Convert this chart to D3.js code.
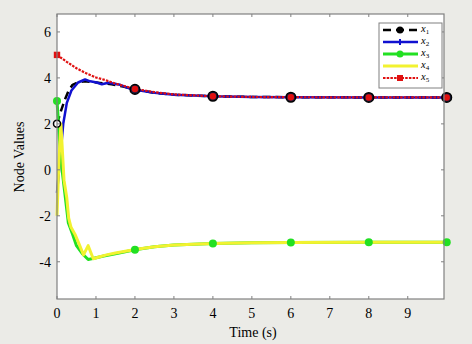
<!DOCTYPE html>
<html><head><meta charset="utf-8">
<script src="https://cdn.jsdelivr.net/npm/d3@7"></script>
<style>body{margin:0;background:#ebebe7;}svg{display:block;}</style>
</head><body><svg id="c" width="472" height="344"></svg>
<script>
const xTicks = [0,1,2,3,4,5,6,7,8,9];
const yTicks = [-4,-2,0,2,4,6];
const markerTimes = [0,2,4,6,8,10];

const t1 = [0,0.1,0.2,0.3,0.4,0.55,0.7,0.9,1.1,1.4,1.7,2,2.5,3,4,5,6,8,10];
const x1 = [2,2.55,3.05,3.45,3.7,3.82,3.85,3.82,3.78,3.72,3.62,3.5,3.35,3.27,3.2,3.17,3.16,3.15,3.15];

const t2 = [0,0.08,0.16,0.25,0.37,0.54,0.72,0.85,1.02,1.15,1.32,1.62,1.92,2.5,3,4,5,6,8,10];
const x2 = [-1,0.5,2.0,2.9,3.45,3.8,3.93,3.85,3.8,3.72,3.79,3.7,3.5,3.35,3.27,3.2,3.17,3.16,3.15,3.15];

const t3 = [0,0.04,0.08,0.13,0.2,0.29,0.4,0.5,0.65,0.8,0.95,1.2,1.5,2,2.5,3,4,5,6,8,10];
const x3 = [3,2,0.85,0,-1,-2.3,-2.8,-3.3,-3.65,-3.9,-3.85,-3.75,-3.65,-3.48,-3.35,-3.27,-3.2,-3.17,-3.16,-3.15,-3.15];

const t4 = [0,0.05,0.1,0.18,0.25,0.3,0.36,0.46,0.56,0.68,0.8,0.93,1.1,1.27,1.5,2,2.5,3,4,5,6,8,10];
const x4 = [-2,0.4,2,-0.45,-1.2,-2.1,-2.5,-2.8,-3.2,-3.7,-3.3,-3.87,-3.78,-3.7,-3.62,-3.47,-3.35,-3.27,-3.2,-3.17,-3.16,-3.15,-3.15];

const t5 = [0,0.25,0.5,0.75,1,1.25,1.5,2,2.5,3,4,5,6,8,10];
const x5 = [5,4.7,4.42,4.2,4.02,3.9,3.75,3.52,3.38,3.28,3.2,3.17,3.16,3.15,3.15];

const svg = d3.select("#c");
const L=57, R=444, T=14, B=299;
const x = d3.scaleLinear().domain([0,9.93]).range([L,R]);
const y = d3.scaleLinear().domain([-5.62,6.78]).range([B,T]);
const font = "'Liberation Serif','Times New Roman',serif";

svg.append("rect").attr("x",L).attr("y",T).attr("width",R-L).attr("height",B-T).attr("fill","#fff");

const line = d3.line().x(d=>x(d[0])).y(d=>y(d[1]));
const zip = (t,v)=>t.map((d,i)=>[d,v[i]]);
const series = [
  {t:t1,v:x1,color:"#000",w:2.5,dash:"8,5"},
  {t:t2,v:x2,color:"#1010d0",w:2.5,dash:null},
  {t:t3,v:x3,color:"#22e022",w:3,dash:null},
  {t:t4,v:x4,color:"#f2f230",w:3,dash:null},
  {t:t5,v:x5,color:"#e01010",w:2.2,dash:"2.5,1.2"}
];
const plot = svg.append("g");
series.forEach(s=>{
  plot.append("path").datum(zip(s.t,s.v)).attr("d",line)
    .attr("fill","none").attr("stroke",s.color).attr("stroke-width",s.w)
    .attr("stroke-linejoin","round").attr("stroke-dasharray",s.dash);
});
const mk = (t,v)=>zip(t,v).filter(d=>markerTimes.includes(d[0]));
plot.selectAll(".m1").data(mk(t1,x1)).join("circle")
  .attr("cx",d=>x(d[0])).attr("cy",d=>y(d[1])).attr("r",d=>d[0]===0?3.5:4.8)
  .attr("fill",d=>d[0]===0?"#fff":"#1a1a40").attr("stroke","#000").attr("stroke-width",1.5);
plot.selectAll(".m3").data(mk(t3,x3)).join("circle")
  .attr("cx",d=>x(d[0])).attr("cy",d=>y(d[1])).attr("r",4).attr("fill","#22e022");
plot.selectAll(".m5").data(mk(t5,x5)).join("rect")
  .attr("x",d=>x(d[0])-3.2).attr("y",d=>y(d[1])-3.2).attr("width",6.4).attr("height",6.4)
  .attr("rx",d=>d[0]===0?0:3).attr("fill","#e01010");

const ax = svg.append("g").attr("stroke","#808080").attr("fill","none");
ax.append("rect").attr("x",L).attr("y",T).attr("width",R-L).attr("height",B-T).attr("stroke-width",1.2);
xTicks.forEach(v=>{
  ax.append("line").attr("x1",x(v)).attr("x2",x(v)).attr("y1",B).attr("y2",B-3);
  ax.append("line").attr("x1",x(v)).attr("x2",x(v)).attr("y1",T).attr("y2",T+3);
});
yTicks.forEach(v=>{
  ax.append("line").attr("x1",L).attr("x2",L+3).attr("y1",y(v)).attr("y2",y(v));
  ax.append("line").attr("x1",R).attr("x2",R-3).attr("y1",y(v)).attr("y2",y(v));
});
svg.append("g").selectAll("text").data(xTicks).join("text")
  .attr("x",d=>x(d)).attr("y",318).attr("text-anchor","middle")
  .attr("font-family",font).attr("font-size",14).text(d=>d);
svg.append("g").selectAll("text").data(yTicks).join("text")
  .attr("x",51).attr("y",d=>y(d)+5).attr("text-anchor","end")
  .attr("font-family",font).attr("font-size",14).text(d=>d);
svg.append("text").attr("x",253).attr("y",337).attr("text-anchor","middle")
  .attr("font-family",font).attr("font-size",14).text("Time (s)");
svg.append("text").attr("transform","translate(24,157) rotate(-90)").attr("text-anchor","middle")
  .attr("font-family",font).attr("font-size",14).text("Node Values");

const lg = svg.append("g");
lg.append("rect").attr("x",379).attr("y",23).attr("width",63).attr("height",65)
  .attr("fill","#fff").attr("stroke","#808080").attr("stroke-width",1);
series.forEach((s,i)=>{
  const yy = 30 + i*12;
  lg.append("line").attr("x1",383).attr("x2",418).attr("y1",yy).attr("y2",yy)
    .attr("stroke",s.color).attr("stroke-width",s.w).attr("stroke-dasharray",s.dash);
  if(i===0) lg.append("circle").attr("cx",400).attr("cy",yy).attr("r",3.5).attr("fill","#000");
  if(i===1) lg.append("line").attr("x1",400).attr("x2",400).attr("y1",yy-3).attr("y2",yy+3).attr("stroke",s.color).attr("stroke-width",2);
  if(i===2) lg.append("circle").attr("cx",400).attr("cy",yy).attr("r",3.5).attr("fill",s.color);
  if(i===4) lg.append("rect").attr("x",397).attr("y",yy-3).attr("width",6).attr("height",6).attr("fill",s.color);
  const tx = lg.append("text").attr("x",421).attr("y",yy+2).attr("font-family",font).attr("font-size",10.5);
  tx.append("tspan").attr("font-style","italic").text("x");
  tx.append("tspan").attr("font-size",7).attr("dy",1.5).text(i+1);
});
</script></body></html>
